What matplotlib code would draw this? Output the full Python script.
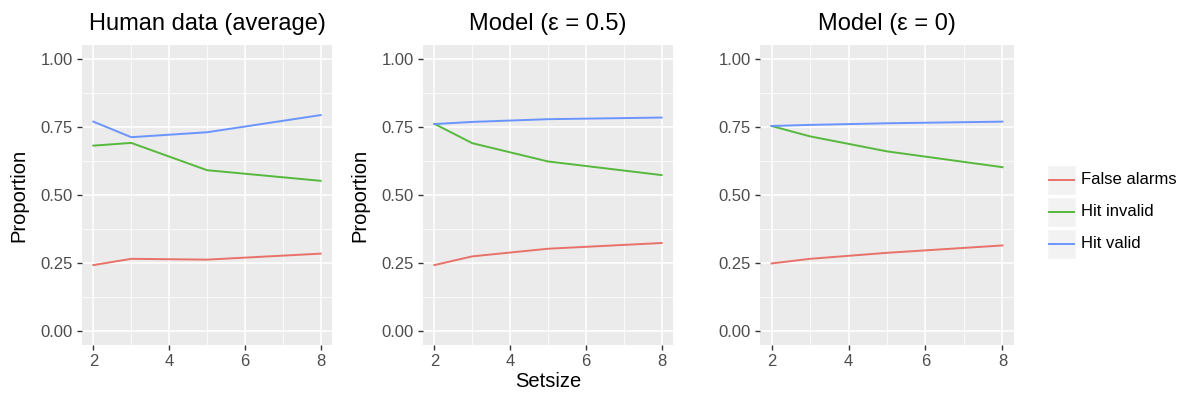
import numpy as np
import matplotlib
matplotlib.use("Agg")
import matplotlib.pyplot as plt
from matplotlib.patches import Rectangle
from matplotlib.lines import Line2D

plt.rcParams["font.family"] = ["Liberation Sans", "DejaVu Sans"]

setsize = [2, 3, 5, 8]
series_names = ["False alarms", "Hit invalid", "Hit valid"]
series_colors = ["#E8716A", "#56B83C", "#6A94FF"]

titles = ["Human data (average)", "Model (\u03b5 = 0.5)", "Model (\u03b5 = 0)"]

human_fa = [0.243, 0.266, 0.263, 0.285]
human_hit_invalid = [0.681, 0.691, 0.591, 0.552]
human_hit_valid = [0.769, 0.712, 0.730, 0.793]

model05_fa = [0.243, 0.275, 0.303, 0.324]
model05_hit_invalid = [0.761, 0.690, 0.623, 0.573]
model05_hit_valid = [0.760, 0.768, 0.778, 0.784]

model0_fa = [0.249, 0.266, 0.288, 0.315]
model0_hit_invalid = [0.753, 0.715, 0.660, 0.602]
model0_hit_valid = [0.753, 0.757, 0.763, 0.769]

panels = [
    [human_fa, human_hit_invalid, human_hit_valid],
    [model05_fa, model05_hit_invalid, model05_hit_valid],
    [model0_fa, model0_hit_invalid, model0_hit_valid],
]

W, H = 1180, 397
fig = plt.figure(figsize=(W / 100, H / 100), dpi=100)

# panel boxes in pixels: (left, right)
boxes = [(82, 332), (423, 673), (760, 1014)]
top_px, bot_px = 45, 345

for i, (l, r) in enumerate(boxes):
    ax = fig.add_axes([l / W, 1 - bot_px / H, (r - l) / W, (bot_px - top_px) / H])
    ax.set_facecolor("#EBEBEB")
    for s in ax.spines.values():
        s.set_visible(False)
    ax.set_xlim(2 - 0.3, 8 + 0.3)
    ax.set_ylim(-0.05, 1.05)
    ax.set_xticks([2, 4, 6, 8])
    ax.set_xticks([3, 5, 7], minor=True)
    ax.set_yticks([0, 0.25, 0.5, 0.75, 1.0])
    ax.set_yticklabels(["0.00", "0.25", "0.50", "0.75", "1.00"])
    ax.set_yticks([0.125, 0.375, 0.625, 0.875], minor=True)
    ax.grid(True, which="major", color="white", linewidth=1.1)
    ax.grid(True, which="minor", color="white", linewidth=0.55)
    ax.set_axisbelow(True)
    ax.tick_params(which="major", length=3.5, width=1, color="#333333",
                   labelcolor="#4D4D4D", labelsize=12, pad=3)
    ax.tick_params(which="minor", length=0)
    for vals, c in zip(panels[i], series_colors):
        ax.plot(setsize, vals, color=c, linewidth=1.4)
    ax.set_title(titles[i], fontsize=17, pad=11)
    if i < 2:
        ax.set_ylabel("Proportion", fontsize=14.5, labelpad=9)
    if i == 1:
        ax.set_xlabel("Setsize", fontsize=14.5, labelpad=2)

# legend drawn in its own axes
lax = fig.add_axes([0, 0, 1, 1])
lax.set_xlim(0, W)
lax.set_ylim(H, 0)
lax.axis("off")
for k, (name, c) in enumerate(zip(series_names, series_colors)):
    yc = 180 + 32 * k
    lax.add_patch(Rectangle((1047, yc - 15), 29, 30, facecolor="#F2F2F2",
                            edgecolor="white", linewidth=1))
    lax.add_line(Line2D([1049, 1074], [yc, yc], color=c, linewidth=1.4))
    lax.text(1081, yc, name, va="center", ha="left", fontsize=12, color="black")

fig.savefig("out.png", dpi=100)
